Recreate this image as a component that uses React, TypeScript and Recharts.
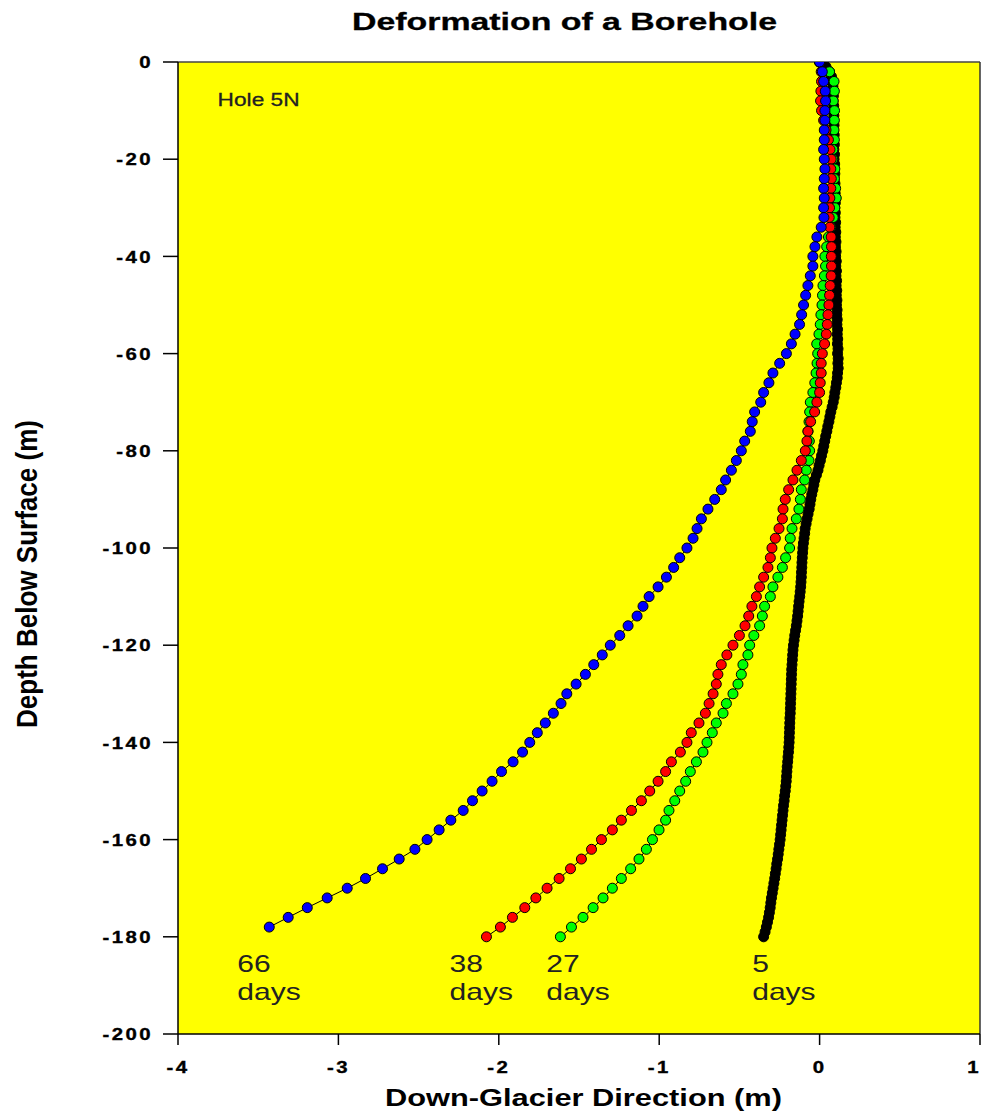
import { ScatterChart, Scatter, XAxis, YAxis, CartesianGrid, ReferenceLine } from "recharts";

// sample depths (m below surface)
const depthsEvery2m = [
  0, -2, -4, -6, -8, -10, -12, -14, -16, -18,
  -20, -22, -24, -26, -28, -30, -32, -34, -36, -38,
  -40, -42, -44, -46, -48, -50, -52, -54, -56, -58,
  -60, -62, -64, -66, -68, -70, -72, -74, -76, -78,
  -80, -82, -84, -86, -88, -90, -92, -94, -96, -98,
  -100, -102, -104, -106, -108, -110, -112, -114, -116, -118,
  -120, -122, -124, -126, -128, -130, -132, -134, -136, -138,
  -140, -142, -144, -146, -148, -150, -152, -154, -156, -158,
  -160, -162, -164, -166, -168, -170, -172, -174, -176, -178,
  -180,
];

const depthsEvery1m = [
  0, -1, -2, -3, -4, -5, -6, -7, -8, -9,
  -10, -11, -12, -13, -14, -15, -16, -17, -18, -19,
  -20, -21, -22, -23, -24, -25, -26, -27, -28, -29,
  -30, -31, -32, -33, -34, -35, -36, -37, -38, -39,
  -40, -41, -42, -43, -44, -45, -46, -47, -48, -49,
  -50, -51, -52, -53, -54, -55, -56, -57, -58, -59,
  -60, -61, -62, -63, -64, -65, -66, -67, -68, -69,
  -70, -71, -72, -73, -74, -75, -76, -77, -78, -79,
  -80, -81, -82, -83, -84, -85, -86, -87, -88, -89,
  -90, -91, -92, -93, -94, -95, -96, -97, -98, -99,
  -100, -101, -102, -103, -104, -105, -106, -107, -108, -109,
  -110, -111, -112, -113, -114, -115, -116, -117, -118, -119,
  -120, -121, -122, -123, -124, -125, -126, -127, -128, -129,
  -130, -131, -132, -133, -134, -135, -136, -137, -138, -139,
  -140, -141, -142, -143, -144, -145, -146, -147, -148, -149,
  -150, -151, -152, -153, -154, -155, -156, -157, -158, -159,
  -160, -161, -162, -163, -164, -165, -166, -167, -168, -169,
  -170, -171, -172, -173, -174, -175, -176, -177, -178, -179,
  -180,
];

// down-glacier displacement (m)
const day66X = [
  0.0, 0.017, 0.025, 0.035, 0.037, 0.033, 0.033, 0.029, 0.029, 0.025,
  0.029, 0.033, 0.029, 0.025, 0.029, 0.025, 0.027, 0.01, -0.017, -0.029,
  -0.042, -0.042, -0.058, -0.073, -0.087, -0.1, -0.112, -0.125, -0.153, -0.176,
  -0.207, -0.249, -0.291, -0.316, -0.349, -0.367, -0.405, -0.42, -0.432, -0.467,
  -0.488, -0.519, -0.55, -0.586, -0.613, -0.654, -0.696, -0.737, -0.764, -0.789,
  -0.827, -0.872, -0.91, -0.955, -1.007, -1.063, -1.101, -1.138, -1.194, -1.246,
  -1.305, -1.355, -1.408, -1.46, -1.518, -1.576, -1.612, -1.66, -1.71, -1.76,
  -1.807, -1.852, -1.911, -1.983, -2.042, -2.104, -2.164, -2.222, -2.299, -2.372,
  -2.447, -2.523, -2.621, -2.725, -2.831, -2.945, -3.07, -3.194, -3.313, -3.431,
];

const day38X = [
  0.0, 0.01, 0.012, 0.008, 0.006, 0.012, 0.025, 0.04, 0.055, 0.065,
  0.072, 0.07, 0.073, 0.07, 0.064, 0.062, 0.06, 0.064, 0.072, 0.074,
  0.073, 0.074, 0.072, 0.066, 0.062, 0.058, 0.052, 0.048, 0.042, 0.031,
  0.017, 0.01, 0.01, 0.004, 0.0, -0.017, -0.031, -0.056, -0.073, -0.079,
  -0.089, -0.114, -0.141, -0.166, -0.193, -0.214, -0.228, -0.232, -0.253, -0.276,
  -0.297, -0.307, -0.322, -0.349, -0.374, -0.394, -0.422, -0.442, -0.465, -0.5,
  -0.54, -0.578, -0.613, -0.634, -0.644, -0.664, -0.689, -0.712, -0.752, -0.8,
  -0.827, -0.868, -0.924, -0.96, -1.007, -1.059, -1.111, -1.173, -1.236, -1.292,
  -1.36, -1.422, -1.485, -1.553, -1.624, -1.699, -1.769, -1.838, -1.915, -1.99,
  -2.077,
];

const day27X = [
  0.0, 0.062, 0.09, 0.092, 0.085, 0.093, 0.092, 0.09, 0.092, 0.083,
  0.082, 0.095, 0.092, 0.1, 0.104, 0.095, 0.085, 0.07, 0.055, 0.044,
  0.033, 0.037, 0.03, 0.021, 0.018, 0.015, 0.008, 0.004, -0.004, -0.018,
  -0.012, -0.016, -0.022, -0.03, -0.042, -0.058, -0.062, -0.066, -0.072, -0.064,
  -0.062, -0.066, -0.083, -0.093, -0.114, -0.12, -0.129, -0.145, -0.172, -0.183,
  -0.187, -0.212, -0.232, -0.26, -0.291, -0.307, -0.343, -0.357, -0.374, -0.41,
  -0.436, -0.447, -0.478, -0.488, -0.509, -0.54, -0.581, -0.602, -0.644, -0.669,
  -0.702, -0.727, -0.768, -0.806, -0.835, -0.872, -0.903, -0.939, -0.96, -1.001,
  -1.042, -1.08, -1.126, -1.178, -1.236, -1.292, -1.35, -1.412, -1.475, -1.547,
  -1.616,
];

const day5X = [
  0.0, 0.04, 0.062, 0.074, 0.08, 0.083, 0.081, 0.086, 0.084, 0.088,
  0.085, 0.089, 0.087, 0.09, 0.086, 0.091, 0.088, 0.092, 0.089, 0.093,
  0.09, 0.094, 0.091, 0.095, 0.092, 0.096, 0.093, 0.097, 0.094, 0.098,
  0.095, 0.098, 0.096, 0.1, 0.097, 0.101, 0.098, 0.102, 0.099, 0.103,
  0.1, 0.104, 0.101, 0.105, 0.102, 0.106, 0.103, 0.107, 0.104, 0.108,
  0.105, 0.109, 0.107, 0.11, 0.108, 0.112, 0.11, 0.113, 0.111, 0.115,
  0.112, 0.116, 0.114, 0.116, 0.112, 0.11, 0.105, 0.101, 0.095, 0.091,
  0.085, 0.078, 0.07, 0.064, 0.058, 0.051, 0.045, 0.038, 0.032, 0.026,
  0.02, 0.012, 0.005, -0.003, -0.01, -0.02, -0.03, -0.036, -0.042, -0.049,
  -0.055, -0.06, -0.065, -0.072, -0.078, -0.084, -0.09, -0.093, -0.097, -0.101,
  -0.104, -0.106, -0.108, -0.11, -0.111, -0.113, -0.114, -0.116, -0.118, -0.121,
  -0.124, -0.128, -0.131, -0.134, -0.137, -0.141, -0.145, -0.15, -0.155, -0.159,
  -0.163, -0.166, -0.168, -0.17, -0.172, -0.174, -0.175, -0.176, -0.177, -0.178,
  -0.179, -0.18, -0.181, -0.182, -0.183, -0.185, -0.186, -0.187, -0.188, -0.189,
  -0.19, -0.192, -0.194, -0.197, -0.199, -0.202, -0.204, -0.206, -0.208, -0.211,
  -0.214, -0.218, -0.221, -0.225, -0.228, -0.231, -0.234, -0.237, -0.24, -0.243,
  -0.246, -0.25, -0.254, -0.258, -0.262, -0.267, -0.271, -0.276, -0.28, -0.285,
  -0.29, -0.295, -0.3, -0.304, -0.308, -0.313, -0.318, -0.325, -0.332, -0.34,
  -0.349,
];

const xTicks = [-4, -3, -2, -1, 0, 1];
const yTicks = [0, -20, -40, -60, -80, -100, -120, -140, -160, -180, -200];

// annotation anchors (data coords)
const dayLabels = [
  { x: -3.63, y: -187.2, n: "66" },
  { x: -2.307, y: -187.2, n: "38" },
  { x: -1.704, y: -187.2, n: "27" },
  { x: -0.42, y: -187.2, n: "5" },
];
const holeLabel = [{ x: -3.753, y: -9.05, n: "Hole 5N" }];

const toPoints = (xs: number[], depths: number[]) =>
  xs.map((x, i) => ({ x, y: depths[i] }));

const FONT = "'Liberation Sans', Arial, Helvetica, sans-serif";

const marker = (fill: string) => (props: any) =>
  <circle cx={props.cx} cy={props.cy} r={5} fill={fill} stroke="#000" strokeWidth={1} />;

function YTick({ x, y, payload }: any) {
  return (
    <g transform={`translate(${x},${y})`}>
      <text transform="scale(1.2,1)" textAnchor="end" dy="0.36em" fontFamily={FONT}
        fontWeight="bold" fontSize={17} letterSpacing={2} fill="#000" stroke="#000" strokeWidth={0.35}>
        {payload.value}
      </text>
    </g>
  );
}

function XTick({ x, y, payload }: any) {
  // the last label sits on the right edge of the page
  const last = payload.value === 1;
  return (
    <g transform={`translate(${last ? x - 1.5 : x},${y})`}>
      <text transform="scale(1.2,1)" textAnchor={last ? "end" : "middle"} dy="0.71em" fontFamily={FONT}
        fontWeight="bold" fontSize={17} letterSpacing={last ? 0 : 2} fill="#000" stroke="#000" strokeWidth={0.35}>
        {payload.value}
      </text>
    </g>
  );
}

function DaysLabel(props: any) {
  const { cx, cy, payload } = props;
  return (
    <g transform={`translate(${cx},${cy}) scale(1.25,1)`}>
      <text x={0} y={0} fontFamily={FONT} fontSize={24} fill="#222">{payload.n}</text>
      <text x={0} y={28} fontFamily={FONT} fontSize={24} fill="#222">days</text>
    </g>
  );
}

function HoleLabel(props: any) {
  const { cx, cy, payload } = props;
  return (
    <text x={cx} y={cy} fontFamily={FONT} fontSize={19} fill="#222" stroke="#222" strokeWidth={0.3}
      textLength={82} lengthAdjust="spacingAndGlyphs">
      {payload.n}
    </text>
  );
}

export default function App() {
  return (
    <div style={{ position: "absolute", left: 0, top: 0, width: 981, height: 1115, background: "#fff" }}>
      <ScatterChart width={981} height={1115} margin={{ top: 62, right: 1, bottom: 0, left: 0 }}>
        <CartesianGrid horizontal={false} vertical={false} fill="#ffff00" fillOpacity={1} />
        <XAxis
          type="number"
          dataKey="x"
          domain={[-4, 1]}
          ticks={xTicks}
          allowDataOverflow
          height={81}
          tickSize={11}
          tickMargin={16}
          axisLine={{ stroke: "#000", strokeWidth: 1.5 }}
          tickLine={{ stroke: "#000", strokeWidth: 1.5 }}
          tick={<XTick />}
          interval={0}
        />
        <YAxis
          type="number"
          dataKey="y"
          domain={[-200, 0]}
          ticks={yTicks}
          allowDataOverflow
          width={178}
          tickSize={15}
          tickMargin={10}
          axisLine={{ stroke: "#000", strokeWidth: 1.5 }}
          tickLine={{ stroke: "#000", strokeWidth: 1.5 }}
          tick={<YTick />}
          interval={0}
        />
        <ReferenceLine y={0} stroke="#444" strokeWidth={1.5} />
        <ReferenceLine x={1} stroke="#333" strokeWidth={1.5} />
        <Scatter data={toPoints(day5X, depthsEvery1m)} fill="#000" line={{ stroke: "#000", strokeWidth: 1 }}
          shape={marker("#000")} isAnimationActive={false} />
        <Scatter data={toPoints(day27X, depthsEvery2m)} fill="#00ff00" line={{ stroke: "#000", strokeWidth: 1 }}
          shape={marker("#00ff00")} isAnimationActive={false} />
        <Scatter data={toPoints(day38X, depthsEvery2m)} fill="#ff0000" line={{ stroke: "#000", strokeWidth: 1 }}
          shape={marker("#ff0000")} isAnimationActive={false} />
        <Scatter data={toPoints(day66X, depthsEvery2m)} fill="#0000ff" line={{ stroke: "#000", strokeWidth: 1 }}
          shape={marker("#0000ff")} isAnimationActive={false} />
        <Scatter data={dayLabels} shape={DaysLabel} isAnimationActive={false} />
        <Scatter data={holeLabel} shape={HoleLabel} isAnimationActive={false} />
      </ScatterChart>

      <svg width={981} height={1115} style={{ position: "absolute", left: 0, top: 0, pointerEvents: "none" }}>
        <text x={564.5} y={30} textAnchor="middle" fontFamily={FONT} fontWeight="bold" fontSize={23}
          textLength={425} lengthAdjust="spacingAndGlyphs" fill="#000" stroke="#000" strokeWidth={0.3}>
          Deformation of a Borehole
        </text>
        <text x={583.5} y={1106} textAnchor="middle" fontFamily={FONT} fontWeight="bold" fontSize={24}
          textLength={397} lengthAdjust="spacingAndGlyphs" fill="#000">
          Down-Glacier Direction (m)
        </text>
        <text transform="translate(37,574) rotate(-90) scale(1,1.2)" textAnchor="middle" fontFamily={FONT}
          fontWeight="bold" fontSize={24} textLength={308} lengthAdjust="spacingAndGlyphs" fill="#000">
          Depth Below Surface (m)
        </text>
      </svg>
    </div>
  );
}
